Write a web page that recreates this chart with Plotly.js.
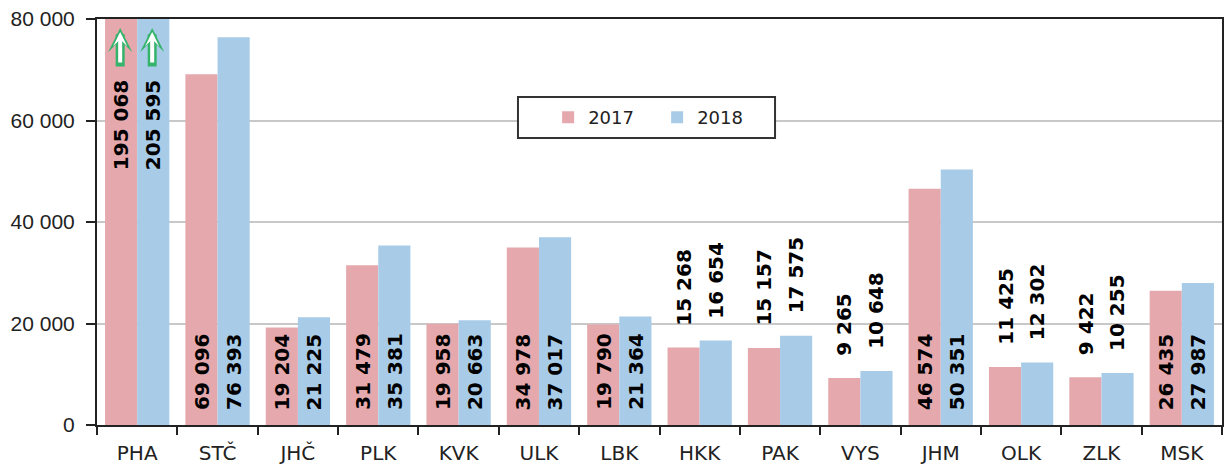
<!DOCTYPE html>
<html>
<head>
<meta charset="utf-8">
<script src="https://cdn.plot.ly/plotly-3.0.1.min.js"></script>
<style>html,body{margin:0;padding:0;background:#fff;}#chart{width:1224px;height:468px;}</style>
</head>
<body>
<div id="chart"></div>
<script>
const regions = ["PHA","STČ","JHČ","PLK","KVK","ULK","LBK","HKK","PAK","VYS","JHM","OLK","ZLK","MSK"];
const values2017 = [195068,69096,19204,31479,19958,34978,19790,15268,15157,9265,46574,11425,9422,26435];
const values2018 = [205595,76393,21225,35381,20663,37017,21364,16654,17575,10648,50351,12302,10255,27987];
const seriesNames = ["2017","2018"];
const seriesColors = ["#E5A9AD","#A8CCE8"];

const yMax = 80000;
const insideMin = 18000;
const labelFont = {family:"DejaVu Sans", size:20, color:"#000", weight:"bold"};

function fmt(v){ return String(v).replace(/\B(?=(\d{3})+(?!\d))/g, " "); }

const allSeries = [values2017, values2018];
const traces = allSeries.map((vals, s) => ({
  type: "bar",
  name: seriesNames[s],
  x: regions,
  y: vals,
  marker: {color: seriesColors[s], line: {width: 0}},
  hoverinfo: "skip",
  cliponaxis: true
}));

const annotations = [];
allSeries.forEach((vals, s) => {
  const xs = s === 0 ? -16 : 16;
  vals.forEach((v, i) => {
    if (v > yMax) {
      annotations.push({x: regions[i], y: yMax, xref:"x", yref:"y", xshift: xs, yshift: -59,
        yanchor: "top", xanchor: "center", text: fmt(v), textangle: -90, showarrow: false, font: labelFont});
      // outlined up arrow (green outer + white inner)
      annotations.push({x: regions[i], y: yMax, xref:"x", yref:"y", xshift: xs - 1, yshift: -9,
        ax: 0, ay: 40, text: "", showarrow: true, arrowhead: 3, arrowsize: 0.45, arrowwidth: 9, arrowcolor: "#34B36B"});
      annotations.push({x: regions[i], y: yMax, xref:"x", yref:"y", xshift: xs - 1, yshift: -13,
        ax: 0, ay: 32, text: "", showarrow: true, arrowhead: 3, arrowsize: 0.6, arrowwidth: 4, arrowcolor: "#FFFFFF"});
    } else if (v < insideMin) {
      annotations.push({x: regions[i], y: v, xref:"x", yref:"y", xshift: xs, yshift: 20,
        yanchor: "bottom", xanchor: "center", text: fmt(v), textangle: -90, showarrow: false, font: labelFont});
    } else {
      annotations.push({x: regions[i], y: 0, xref:"x", yref:"y", xshift: xs, yshift: 13,
        yanchor: "bottom", xanchor: "center", text: fmt(v), textangle: -90, showarrow: false, font: labelFont});
    }
  });
});

const layout = {
  width: 1224, height: 468,
  margin: {l: 97, r: 2, t: 19, b: 43, pad: 0},
  paper_bgcolor: "#fff", plot_bgcolor: "#fff",
  separators: ", ",
  barmode: "group", bargap: 0.2, bargroupgap: 0,
  showlegend: true,
  legend: {orientation: "h", x: 0.401, xanchor: "left", y: 0.757, yanchor: "middle",
    bgcolor: "rgba(0,0,0,0)", borderwidth: 0, itemwidth: 30, entrywidth: 64,
    font: {family: "DejaVu Sans", size: 18, color: "#222"}, itemclick: false},
  xaxis: {type: "category", showline: true, linecolor: "#222", linewidth: 2, mirror: true,
    ticks: "outside", tickson: "boundaries", ticklen: 8, tickwidth: 2, tickcolor: "#222",
    ticklabelstandoff: 9,
    tickfont: {family: "DejaVu Sans", size: 20, color: "#222"}, showgrid: false, fixedrange: true},
  yaxis: {range: [0, yMax], dtick: 20000, tickformat: ",d", showline: true, linecolor: "#222", linewidth: 2,
    mirror: true, ticks: "outside", ticklen: 9, tickwidth: 2, tickcolor: "#222", ticklabelstandoff: 7,
    gridcolor: "#C8C8C8", gridwidth: 2, zeroline: false,
    tickfont: {family: "Liberation Sans", size: 21, color: "#222"}, fixedrange: true},
  shapes: [{type: "rect", xref: "paper", yref: "paper", x0: 0.3742, x1: 0.6027, y0: 0.707, y1: 0.808,
    line: {color: "#333", width: 2}, fillcolor: "#fff", layer: "above"}],
  annotations: annotations
};

Plotly.newPlot("chart", traces, layout, {displayModeBar: false, staticPlot: true});
</script>
</body>
</html>
